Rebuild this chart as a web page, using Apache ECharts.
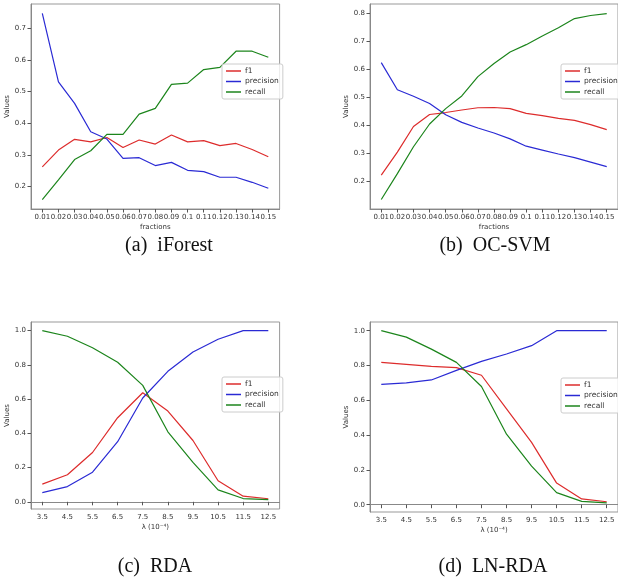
<!DOCTYPE html>
<html>
<head>
<meta charset="utf-8">
<script src="https://cdn.jsdelivr.net/npm/echarts@6/dist/echarts.min.js"></script>
<style>
  html, body { margin: 0; padding: 0; background: #fff; }
  #main { width: 618px; height: 581px; }
</style>
</head>
<body>
<div id="main"></div>
<script>
// x values
const fractions = [0.01, 0.02, 0.03, 0.04, 0.05, 0.06, 0.07, 0.08, 0.09, 0.1, 0.11, 0.12, 0.13, 0.14, 0.15];
const lambdas = [3.5, 4.5, 5.5, 6.5, 7.5, 8.5, 9.5, 10.5, 11.5, 12.5];

// (a) iForest
const iforestF1 = [0.262, 0.315, 0.349, 0.341, 0.355, 0.323, 0.347, 0.334, 0.363, 0.341, 0.345, 0.329, 0.336, 0.317, 0.294];
const iforestPrecision = [0.748, 0.531, 0.463, 0.373, 0.350, 0.289, 0.291, 0.266, 0.276, 0.251, 0.247, 0.229, 0.229, 0.213, 0.194];
const iforestRecall = [0.158, 0.221, 0.285, 0.313, 0.365, 0.365, 0.429, 0.447, 0.523, 0.527, 0.570, 0.577, 0.628, 0.628, 0.609];

// (b) OC-SVM
const ocsvmF1 = [0.223, 0.305, 0.396, 0.439, 0.446, 0.455, 0.463, 0.464, 0.460, 0.443, 0.435, 0.425, 0.418, 0.403, 0.385];
const ocsvmPrecision = [0.624, 0.527, 0.504, 0.478, 0.438, 0.411, 0.391, 0.373, 0.352, 0.326, 0.312, 0.298, 0.285, 0.269, 0.253];
const ocsvmRecall = [0.136, 0.228, 0.324, 0.405, 0.460, 0.505, 0.574, 0.621, 0.662, 0.688, 0.719, 0.748, 0.781, 0.792, 0.799];

// (c) RDA
const rdaF1 = [0.103, 0.158, 0.288, 0.491, 0.637, 0.530, 0.358, 0.123, 0.033, 0.018];
const rdaPrecision = [0.054, 0.089, 0.173, 0.351, 0.606, 0.762, 0.875, 0.949, 1.0, 1.0];
const rdaRecall = [1.0, 0.967, 0.900, 0.815, 0.680, 0.409, 0.230, 0.070, 0.019, 0.013];

// (d) LN-RDA
const lnrdaF1 = [0.818, 0.807, 0.795, 0.788, 0.744, 0.551, 0.358, 0.124, 0.033, 0.017];
const lnrdaPrecision = [0.692, 0.700, 0.717, 0.772, 0.824, 0.866, 0.914, 1.0, 1.0, 1.0];
const lnrdaRecall = [1.0, 0.963, 0.894, 0.818, 0.679, 0.405, 0.222, 0.069, 0.019, 0.011];

// tick labels
const yTicksA = [0.2, 0.3, 0.4, 0.5, 0.6, 0.7];
const yTicksB = [0.2, 0.3, 0.4, 0.5, 0.6, 0.7, 0.8];
const yTicksCD = [0.0, 0.2, 0.4, 0.6, 0.8, 1.0];
const captions = ['(a)  iForest', '(b)  OC-SVM', '(c)  RDA', '(d)  LN-RDA'];

const colors = { f1: '#dd2c2c', precision: '#2a2ad4', recall: '#1c851c' };
const tickFont = { fontFamily: 'DejaVu Sans', fontSize: 7, color: '#333' };

const grids = [
  { left: 31, top: 4, width: 248.6, height: 205 },
  { left: 370, top: 4, width: 248.6, height: 205 },
  { left: 31, top: 322, width: 248.6, height: 187 },
  { left: 370, top: 322, width: 248.6, height: 190 }
];

function xAxisFor(i, ticks, min, max, name) {
  return {
    type: 'value', gridIndex: i, min: min, max: max,
    name: name, nameLocation: 'middle', nameGap: 15,
    nameTextStyle: tickFont,
    axisLine: { show: true, lineStyle: { color: '#888', width: 1 } },
    axisTick: { show: true, length: 3.5, customValues: ticks, lineStyle: { color: '#555' } },
    axisLabel: Object.assign({ customValues: ticks, margin: 5,
      formatter: v => String(+(+v).toFixed(2)) }, tickFont),
    splitLine: { show: false }
  };
}

function yAxisFor(i, ticks, min, max) {
  return {
    type: 'value', gridIndex: i, min: min, max: max,
    name: 'Values', nameLocation: 'middle', nameGap: 19, nameRotate: 90,
    nameTextStyle: tickFont,
    axisLine: { show: true, lineStyle: { color: '#888', width: 1 } },
    axisTick: { show: true, length: 3.5, customValues: ticks, lineStyle: { color: '#555' } },
    axisLabel: Object.assign({ customValues: ticks, margin: 5,
      formatter: v => (+v).toFixed(1) }, tickFont),
    splitLine: { show: false }
  };
}

function lineSeries(name, i, xs, ys) {
  return {
    name: name, type: 'line', xAxisIndex: i, yAxisIndex: i,
    data: xs.map((x, k) => [x, ys[k]]),
    showSymbol: false, symbol: 'none',
    lineStyle: { color: colors[name], width: 1.2 },
    itemStyle: { color: colors[name] }
  };
}

function legendAt(left, top) {
  return {
    data: ['f1', 'precision', 'recall'], orient: 'vertical',
    left: left, top: top, icon: 'rect', itemWidth: 15, itemHeight: 1.5, itemGap: 2.5,
    padding: [3, 4, 3, 4], borderColor: '#ccc', borderWidth: 1, borderRadius: 2,
    backgroundColor: 'rgba(255,255,255,0.8)',
    textStyle: { fontFamily: 'DejaVu Sans', fontSize: 7.5, color: '#333', padding: [0, 0, 0, -1] }
  };
}

const lambdaName = 'λ (10⁻⁴)';
const captionPos = [[164, 231], [490, 231], [150, 552], [488, 552]];

const chart = echarts.init(document.getElementById('main'));
chart.setOption({
  animation: false,
  title: captions.map((c, i) => ({
    text: c, left: captionPos[i][0], top: captionPos[i][1], textAlign: 'center',
    textStyle: { fontFamily: 'Liberation Serif', fontSize: 20, fontWeight: 'normal', color: '#111' }
  })),
  grid: grids.map(g => Object.assign({ show: true, borderColor: '#999', borderWidth: 1, containLabel: false }, g)),
  legend: [legendAt(222, 64), legendAt(561, 64), legendAt(222, 377), legendAt(561, 378)],
  xAxis: [
    xAxisFor(0, fractions, 0.003, 0.157, 'fractions'),
    xAxisFor(1, fractions, 0.003, 0.157, 'fractions'),
    xAxisFor(2, lambdas, 3.05, 12.95, lambdaName),
    xAxisFor(3, lambdas, 3.05, 12.95, lambdaName)
  ],
  yAxis: [
    yAxisFor(0, yTicksA, 0.1285, 0.7775),
    yAxisFor(1, yTicksB, 0.102, 0.833),
    yAxisFor(2, yTicksCD, -0.042, 1.05),
    yAxisFor(3, yTicksCD, -0.042, 1.05)
  ],
  series: [
    lineSeries('f1', 0, fractions, iforestF1),
    lineSeries('precision', 0, fractions, iforestPrecision),
    lineSeries('recall', 0, fractions, iforestRecall),
    lineSeries('f1', 1, fractions, ocsvmF1),
    lineSeries('precision', 1, fractions, ocsvmPrecision),
    lineSeries('recall', 1, fractions, ocsvmRecall),
    lineSeries('f1', 2, lambdas, rdaF1),
    lineSeries('precision', 2, lambdas, rdaPrecision),
    lineSeries('recall', 2, lambdas, rdaRecall),
    lineSeries('f1', 3, lambdas, lnrdaF1),
    lineSeries('precision', 3, lambdas, lnrdaPrecision),
    lineSeries('recall', 3, lambdas, lnrdaRecall)
  ]
});
</script>
</body>
</html>
